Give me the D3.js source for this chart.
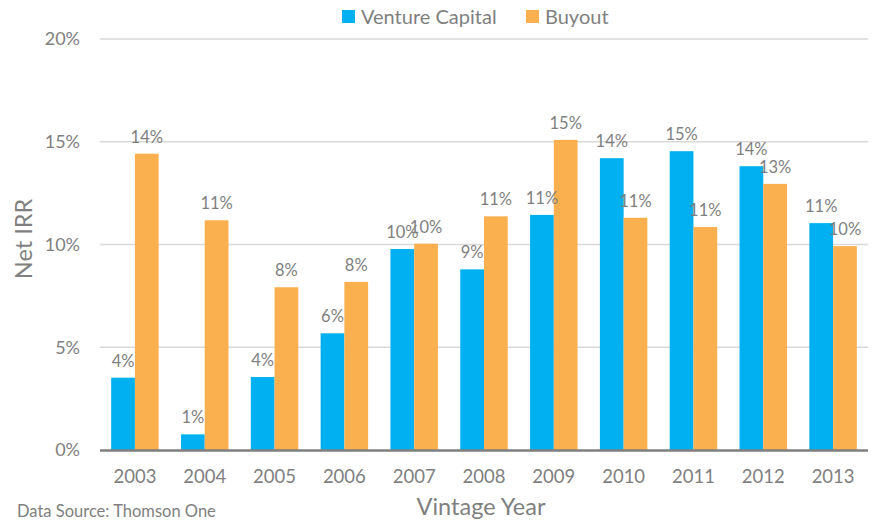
<!DOCTYPE html>
<html lang="en">
<head>
    <meta charset="UTF-8">
    <title>Net IRR by Vintage Year</title>
    <script src="https://d3js.org/d3.v7.min.js"></script>
    <style>
        body {
            margin: 0;
            background: #fff;
            font-family: Lato, "Open Sans", sans-serif;
        }
        svg text {
            fill: #7f7f7f;
        }
    </style>
</head>
<body>

    <svg width="873" height="521"></svg>

    <script>
        const years = ["2003", "2004", "2005", "2006", "2007", "2008", "2009", "2010", "2011", "2012", "2013"];
        const ventureCapital = [3.52, 0.76, 3.55, 5.68, 9.78, 8.79, 11.44, 14.2, 14.54, 13.81, 11.04];
        const buyout = [14.42, 11.18, 7.92, 8.18, 10.04, 11.37, 15.09, 11.3, 10.85, 12.95, 9.92];
        const yTicks = [0, 5, 10, 15, 20];
        const seriesNames = ["Venture Capital", "Buyout"];
        const colors = ["#00b0f0", "#fbb050"];

        const svg = d3.select("svg");
        const plotLeft = 100, plotRight = 868, plotTop = 39, plotBottom = 450;

        const x = d3.scaleBand()
            .domain(years)
            .range([plotLeft, plotRight])
            .paddingInner(0.32)
            .paddingOuter(0.16);

        const xInner = d3.scaleBand()
            .domain(seriesNames)
            .range([0, x.bandwidth()]);

        const y = d3.scaleLinear()
            .domain([0, 20])
            .range([plotBottom, plotTop]);

        // gridlines
        svg.append("g")
            .selectAll("line")
            .data(yTicks.filter(d => d > 0))
            .enter().append("line")
            .attr("x1", plotLeft)
            .attr("x2", plotRight)
            .attr("y1", d => y(d))
            .attr("y2", d => y(d))
            .attr("stroke", "#d9d9d9")
            .attr("stroke-width", 1.3);

        // y tick labels
        svg.append("g")
            .selectAll("text")
            .data(yTicks)
            .enter().append("text")
            .attr("x", 80)
            .attr("y", d => y(d))
            .attr("dy", "0.36em")
            .attr("text-anchor", "end")
            .style("font-size", "18px")
            .text(d => d + "%");

        const rows = years.map((yr, i) => ({
            year: yr,
            values: [ventureCapital[i], buyout[i]]
        }));

        const groups = svg.append("g")
            .selectAll("g")
            .data(rows)
            .enter().append("g")
            .attr("transform", d => `translate(${x(d.year)},0)`);

        groups.selectAll("rect")
            .data(d => d.values.map((v, k) => ({ v, k })))
            .enter().append("rect")
            .attr("x", d => xInner(seriesNames[d.k]))
            .attr("width", xInner.bandwidth())
            .attr("y", d => y(d.v))
            .attr("height", d => y(0) - y(d.v))
            .attr("fill", d => colors[d.k]);

        groups.selectAll("text")
            .data(d => d.values.map((v, k) => ({ v, k })))
            .enter().append("text")
            .attr("x", d => xInner(seriesNames[d.k]) + xInner.bandwidth() / 2)
            .attr("y", d => y(d.v) - 11)
            .attr("text-anchor", "middle")
            .style("font-size", "16.5px")
            .text(d => Math.round(d.v) + "%");

        // x axis line
        svg.append("line")
            .attr("x1", plotLeft)
            .attr("x2", plotRight)
            .attr("y1", plotBottom + 0.5)
            .attr("y2", plotBottom + 0.5)
            .attr("stroke", "#7f7f7f")
            .attr("stroke-width", 2.5);

        // x tick labels
        svg.append("g")
            .selectAll("text")
            .data(years)
            .enter().append("text")
            .attr("x", d => x(d) + x.bandwidth() / 2)
            .attr("y", 483)
            .attr("text-anchor", "middle")
            .style("font-size", "18.5px")
            .text(d => d);

        // axis titles
        svg.append("text")
            .attr("x", 481)
            .attr("y", 515)
            .attr("text-anchor", "middle")
            .style("font-size", "23.5px")
            .text("Vintage Year");

        svg.append("text")
            .attr("transform", "translate(32,239) rotate(-90)")
            .attr("text-anchor", "middle")
            .style("font-size", "23.5px")
            .text("Net IRR");

        svg.append("text")
            .attr("x", 17)
            .attr("y", 517)
            .style("font-size", "16.5px")
            .text("Data Source: Thomson One");

        // legend
        const legendX = [342, 526];
        const legend = svg.append("g")
            .selectAll("g")
            .data(seriesNames)
            .enter().append("g")
            .attr("transform", (d, i) => `translate(${legendX[i]},10)`);

        legend.append("rect")
            .attr("width", 13)
            .attr("height", 13)
            .attr("fill", (d, i) => colors[i]);

        legend.append("text")
            .attr("x", 19)
            .attr("y", 13.5)
            .style("font-size", "20px")
            .text(d => d);
    </script>

</body>
</html>
